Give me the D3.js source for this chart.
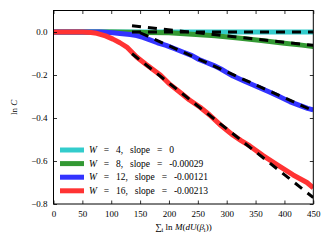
<!DOCTYPE html>
<html>
<head>
<meta charset="utf-8">
<script src="https://cdn.jsdelivr.net/npm/d3@7"></script>
<style>
  body { margin: 0; background: #fff; }
  svg { display: block; font-family: "Liberation Serif", "DejaVu Serif", serif; }
</style>
</head>
<body>
<svg id="chart" width="332" height="246"></svg>
<script>
// ----------------------
// data
// ----------------------
const xTicks = [0, 50, 100, 150, 200, 250, 300, 350, 400, 450];
const yTicks = [0, -0.2, -0.4, -0.6, -0.8];

const w4X  = [0, 100, 200, 300, 400, 450];
const w4Y  = [0, 0, 0, 0, 0, 0];

const w8X  = [0, 100, 130, 160, 200, 240, 280, 320, 360, 400, 430, 450];
const w8Y  = [0, 0, -0.001, -0.002, -0.004, -0.01, -0.017, -0.028, -0.04, -0.052, -0.061, -0.068];

const w12X = [0, 80, 90, 103, 115, 133, 144, 155, 167, 180, 195, 210, 225, 240, 252, 265, 277, 290, 311, 330, 356, 375, 391, 410, 425, 440, 450];
const w12Y = [0, 0, -0.001, -0.004, -0.007, -0.012, -0.017, -0.025, -0.037, -0.05, -0.062, -0.078, -0.094, -0.11, -0.128, -0.142, -0.155, -0.172, -0.205, -0.228, -0.258, -0.28, -0.3, -0.325, -0.34, -0.355, -0.362];

const w16X = [0, 50, 65, 75, 90, 103, 115, 127, 144, 160, 185, 200, 219, 235, 254, 270, 288, 311, 325, 340, 363, 389, 415, 439, 450];
const w16Y = [0, 0, -0.002, -0.006, -0.018, -0.033, -0.05, -0.07, -0.116, -0.15, -0.2, -0.24, -0.28, -0.315, -0.35, -0.385, -0.43, -0.48, -0.505, -0.53, -0.575, -0.62, -0.665, -0.7, -0.725];

// linear fits: x start, intercept, slope
const fitStart     = [136, 136, 150, 136];
const fitIntercept = [0, 0.0685, 0.178, 0.1885];
const fitSlope     = [0, -0.00029, -0.00121, -0.00213];

const widths = [4, 8, 12, 16];
const slopeLabels = ["0", "-0.00029", "-0.00121", "-0.00213"];
const colors = ["#33cccc", "#339933", "#3333ff", "#ff3333"];

// ----------------------
// layout
// ----------------------
const svg = d3.select("#chart");
const margin = { left: 53.5, right: 18.7, top: 10.5, bottom: 42 };
const W = 332, H = 246;

const x = d3.scaleLinear().domain([0, 450]).range([margin.left, W - margin.right]);
const y = d3.scaleLinear().domain([-0.8, 0.1]).range([H - margin.bottom, margin.top]);

svg.append("clipPath").attr("id", "clip")
  .append("rect")
  .attr("x", x(0)).attr("y", y(0.1))
  .attr("width", x(450) - x(0)).attr("height", y(-0.8) - y(0.1));

const plot = svg.append("g").attr("clip-path", "url(#clip)");

const line = d3.line().x(d => x(d[0])).y(d => y(d[1]));

const series = [
  d3.zip(w4X, w4Y),
  d3.zip(w8X, w8Y),
  d3.zip(w12X, w12Y),
  d3.zip(w16X, w16Y)
];

series.forEach((s, i) => {
  plot.append("path")
    .attr("d", line(s))
    .attr("fill", "none")
    .attr("stroke", colors[i])
    .attr("stroke-width", 5)
    .attr("stroke-linejoin", "round");
});

series.forEach((s, i) => {
  const f = [fitStart[i], 450].map(v => [v, fitIntercept[i] + fitSlope[i] * v]);
  plot.append("path")
    .attr("d", line(f))
    .attr("fill", "none")
    .attr("stroke", "#000")
    .attr("stroke-width", 3)
    .attr("stroke-dasharray", "9,7");
});

// ----------------------
// axes (ticks inward on all sides)
// ----------------------
const tickLen = 3.5;
const fmtY = d => d === 0 ? "0.0" : d3.format(".1f")(d).replace("-", "\u2212");

svg.append("g")
  .attr("transform", `translate(0,${y(-0.8)})`)
  .call(d3.axisBottom(x).tickValues(xTicks).tickSizeInner(-tickLen).tickSizeOuter(0).tickPadding(7))
  .call(g => g.select(".domain").remove());

svg.append("g")
  .attr("transform", `translate(0,${y(0.1)})`)
  .call(d3.axisTop(x).tickValues(xTicks).tickSizeInner(-tickLen).tickSizeOuter(0).tickFormat(""))
  .call(g => g.select(".domain").remove());

svg.append("g")
  .attr("transform", `translate(${x(0)},0)`)
  .call(d3.axisLeft(y).tickValues(yTicks).tickSizeInner(-tickLen).tickSizeOuter(0).tickPadding(6).tickFormat(fmtY))
  .call(g => g.select(".domain").remove());

svg.append("g")
  .attr("transform", `translate(${x(450)},0)`)
  .call(d3.axisRight(y).tickValues(yTicks).tickSizeInner(-tickLen).tickSizeOuter(0).tickFormat(""))
  .call(g => g.select(".domain").remove());

svg.selectAll(".tick text")
  .attr("font-family", "Liberation Serif, DejaVu Serif, serif")
  .attr("font-size", 9)
  .attr("fill", "#000");
svg.selectAll(".tick line").attr("stroke", "#000").attr("stroke-width", 0.8);

svg.append("rect")
  .attr("x", x(0)).attr("y", y(0.1))
  .attr("width", x(450) - x(0)).attr("height", y(-0.8) - y(0.1))
  .attr("fill", "none").attr("stroke", "#000").attr("stroke-width", 1);

// ----------------------
// axis labels
// ----------------------
const xl = svg.append("text")
  .attr("x", (x(0) + x(450)) / 2)
  .attr("y", 230)
  .attr("text-anchor", "middle")
  .attr("font-size", 9);
xl.append("tspan").text("\u2211");
xl.append("tspan").attr("font-size", 6.5).attr("dy", 2).text("i");
xl.append("tspan").attr("dy", -2).text(" ln ");
xl.append("tspan").attr("font-style", "italic").text("M");
xl.append("tspan").text("(");
xl.append("tspan").attr("font-style", "italic").text("dU");
xl.append("tspan").text("(");
xl.append("tspan").attr("font-style", "italic").text("\u03b2");
xl.append("tspan").attr("font-size", 6.5).attr("dy", 2).text("i");
xl.append("tspan").attr("dy", -2).text("))");

const yl = svg.append("text")
  .attr("transform", `translate(17,${(y(0.1) + y(-0.8)) / 2}) rotate(-90)`)
  .attr("text-anchor", "middle")
  .attr("font-size", 9);
yl.append("tspan").text("ln ");
yl.append("tspan").attr("font-style", "italic").text("C");

// ----------------------
// legend
// ----------------------
const legendY = [150, 163.6, 177.2, 190.8];
const legend = svg.append("g");
widths.forEach((w, i) => {
  legend.append("line")
    .attr("x1", 60).attr("x2", 84)
    .attr("y1", legendY[i]).attr("y2", legendY[i])
    .attr("stroke", colors[i]).attr("stroke-width", 5);
  const t = legend.append("text")
    .attr("x", 89).attr("y", legendY[i] + 3.2)
    .attr("font-size", 9.5)
    .attr("word-spacing", 4.5)
    .attr("xml:space", "preserve");
  t.append("tspan").attr("font-style", "italic").text("W");
  t.append("tspan").text(` = ${w}, slope = ${slopeLabels[i]}`);
});
</script>
</body>
</html>
